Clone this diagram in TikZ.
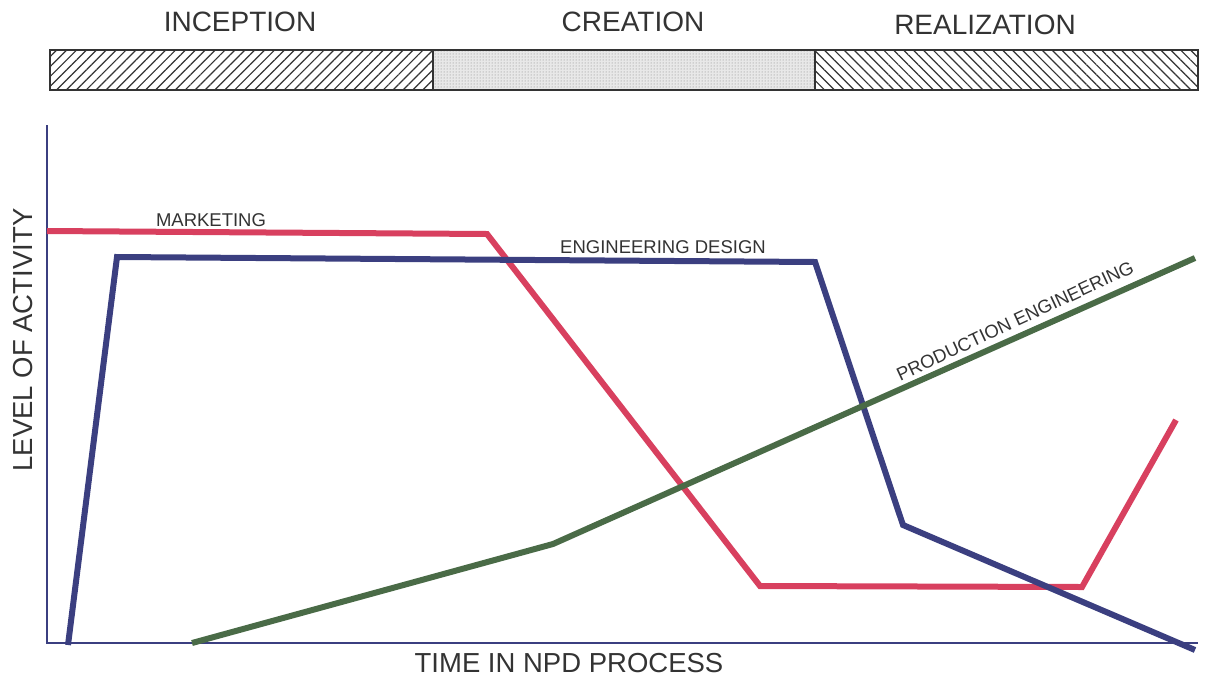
\documentclass[tikz,border=0pt]{standalone}
\usepackage{fontspec}
\setmainfont{Liberation Sans}
\usetikzlibrary{patterns.meta}
\definecolor{mred}{HTML}{D8405F}
\definecolor{eblue}{HTML}{3B3F80}
\definecolor{pgreen}{HTML}{4A6B47}
\definecolor{ink}{HTML}{333333}
\begin{document}
\begin{tikzpicture}[x=1pt,y=-1pt,
  bar/.style={draw=ink,line width=1.2pt},
  curve/.style={line width=6pt,line join=miter},
  axis/.style={draw=eblue,line width=1.8pt},
  phase/.style={font=\fontsize{28}{32}\selectfont,text=ink},
  lab/.style={font=\fontsize{18.5}{21}\selectfont,text=ink},
  big/.style={font=\fontsize{27.5}{31}\selectfont,text=ink}]
\useasboundingbox (0,0) rectangle (1218,681);
% phase bars
\path[bar,pattern={Lines[angle=45,distance=7pt,line width=1.2pt]},pattern color=ink] (50,50) rectangle (433,90);
\path[bar,fill=gray!18] (433,50) rectangle (815,90);
\path[pattern={Dots[radius=0.5pt,distance=3pt]},pattern color=gray] (433,50) rectangle (815,90);
\path[bar] (433,50) rectangle (815,90);
\path[bar,pattern={Lines[angle=-45,distance=7pt,line width=1.2pt]},pattern color=ink] (815,50) rectangle (1198,90);
\node[phase] (inc) at (240,22) {INCEPTION};
\node[phase] (cre) at (633,22) {CREATION};
\node[phase] (rea) at (985,25) {REALIZATION};
% axes
\coordinate (o) at (47,643);
\coordinate (ytop) at (47,125);
\coordinate (xend) at (1198,643);
\draw[axis] (ytop) -- (o) -- (xend);
% curves
\draw[curve,draw=mred] (47,231) -- (487,234) -- (760,586) -- (1082,587) -- (1176,420);
\draw[curve,draw=eblue] (68,645) -- (117,257) -- (815,262) -- (903,525) -- (1195,650);
\draw[curve,draw=pgreen] (192,643) -- (553,544) -- (1195,258);
% labels
\node[lab] (mk) at (211,220) {MARKETING};
\node[lab] (ed) at (663,247) {ENGINEERING DESIGN};
\node[lab,rotate=25] (pe) at (1015,321) {PRODUCTION ENGINEERING};
\node[big,rotate=90] (ylab) at (23,340) {LEVEL OF ACTIVITY};
\node[big] (xlab) at (569,663) {TIME IN NPD PROCESS};
\end{tikzpicture}
\end{document}
